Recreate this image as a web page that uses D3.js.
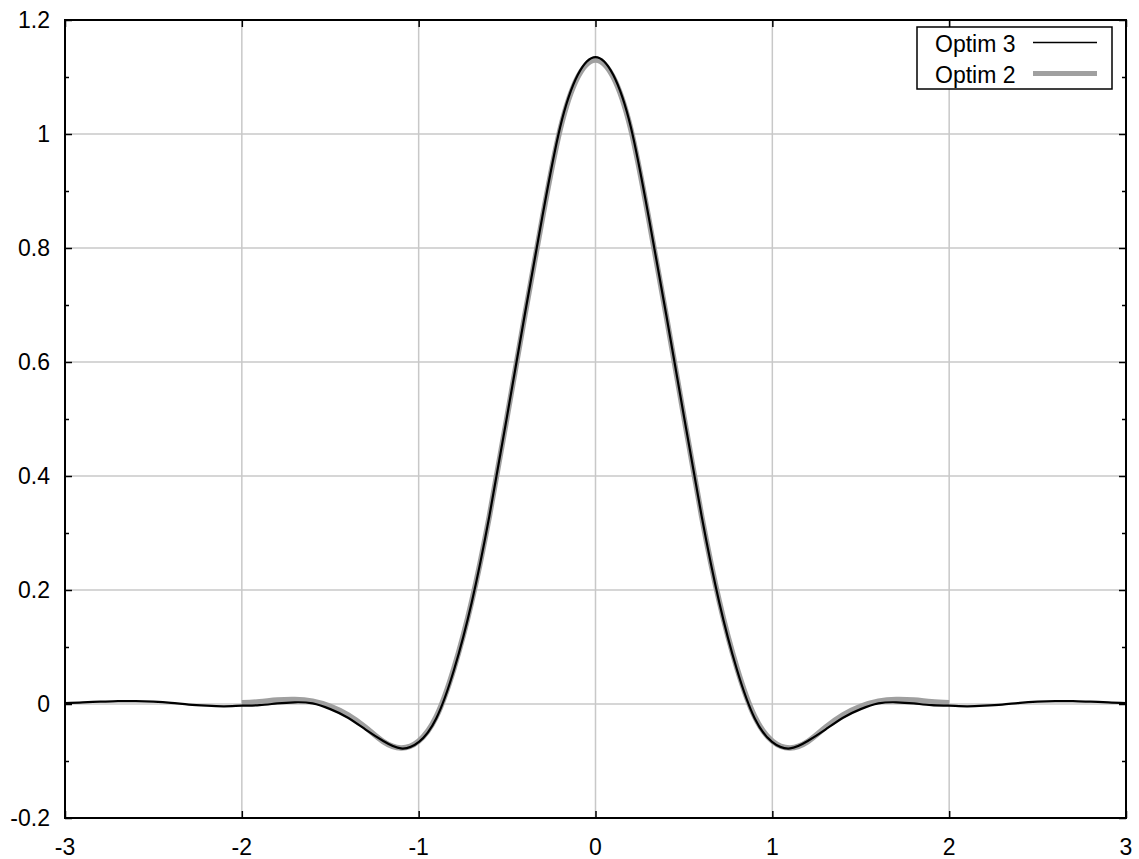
<!DOCTYPE html>
<html>
<head>
<meta charset="utf-8">
<script src="https://cdn.jsdelivr.net/npm/d3@7"></script>
<style>
  html, body { margin: 0; padding: 0; background: #fff; }
  svg { display: block; }
  text { font-family: "Liberation Sans", Arial, sans-serif; fill: #000; }
</style>
</head>
<body>
<svg id="chart" width="1139" height="859"></svg>
<script>
// Sample positions and kernel values (step 0.1)
const xOptim3 = [-3.0,-2.9,-2.8,-2.7,-2.6,-2.5,-2.4,-2.3,-2.2,-2.1,-2.0,-1.9,-1.8,-1.7,-1.6,-1.5,-1.4,-1.3,-1.2,-1.1,-1.0,-0.9,-0.8,-0.7,-0.6,-0.5,-0.4,-0.3,-0.2,-0.1,0.0,
                 0.1,0.2,0.3,0.4,0.5,0.6,0.7,0.8,0.9,1.0,1.1,1.2,1.3,1.4,1.5,1.6,1.7,1.8,1.9,2.0,2.1,2.2,2.3,2.4,2.5,2.6,2.7,2.8,2.9,3.0];
const yOptim3 = [0.0015,0.003,0.004,0.005,0.005,0.004,0.002,-0.001,-0.003,-0.004,-0.003,-0.002,0.001,0.003,0.001,-0.009,-0.024,-0.045,-0.065,-0.078,-0.067,-0.025,0.060,0.178,0.330,0.505,0.683,0.856,1.012,1.104,1.135,
                 1.104,1.012,0.856,0.683,0.505,0.330,0.178,0.060,-0.025,-0.067,-0.078,-0.065,-0.045,-0.024,-0.009,0.001,0.003,0.001,-0.002,-0.003,-0.004,-0.003,-0.001,0.002,0.004,0.005,0.005,0.004,0.003,0.0015];

const xOptim2 = [-2.0,-1.9,-1.8,-1.7,-1.6,-1.5,-1.4,-1.3,-1.2,-1.1,-1.0,-0.9,-0.8,-0.7,-0.6,-0.5,-0.4,-0.3,-0.2,-0.1,0.0,
                 0.1,0.2,0.3,0.4,0.5,0.6,0.7,0.8,0.9,1.0,1.1,1.2,1.3,1.4,1.5,1.6,1.7,1.8,1.9,2.0];
const yOptim2 = [0.002,0.004,0.007,0.008,0.005,-0.004,-0.019,-0.041,-0.066,-0.077,-0.065,-0.022,0.063,0.180,0.330,0.504,0.681,0.853,1.008,1.100,1.130,
                 1.100,1.008,0.853,0.681,0.504,0.330,0.180,0.063,-0.022,-0.065,-0.077,-0.066,-0.041,-0.019,-0.004,0.005,0.008,0.007,0.004,0.002];

const xTicks = [-3,-2,-1,0,1,2,3];
const xTickLabels = ["-3","-2","-1","0","1","2","3"];
const yTicks = [-0.2,0,0.2,0.4,0.6,0.8,1,1.2];
const yTickLabels = ["-0.2","0","0.2","0.4","0.6","0.8","1","1.2"];
const yMinorTicks = [-0.1,0.1,0.3,0.5,0.7,0.9,1.1];

const legendNames = ["Optim 3","Optim 2"];

const svg = d3.select("#chart");
const margin = {left: 65, right: 13, top: 20, bottom: 41};
const W = 1139, H = 859;
const fontSize = 23;

const x = d3.scaleLinear().domain([-3, 3]).range([margin.left, W - margin.right]);
const y = d3.scaleLinear().domain([-0.2, 1.2]).range([H - margin.bottom, margin.top]);

const x0 = x.range()[0], x1 = x.range()[1];
const y0 = y.range()[0], y1 = y.range()[1];

// grid
const grid = svg.append("g").attr("stroke", "#c8c8c8").attr("stroke-width", 1.5);
grid.selectAll(".gx").data(xTicks.slice(1, -1)).join("line")
  .attr("x1", d => x(d)).attr("x2", d => x(d)).attr("y1", y1).attr("y2", y0);
grid.selectAll(".gy").data(yTicks.slice(1, -1)).join("line")
  .attr("y1", d => y(d)).attr("y2", d => y(d)).attr("x1", x0).attr("x2", x1);

// axes: ticks inward on all four sides
const majorLen = 7, minorLen = 4;
const axLeft = d3.axisRight(y).tickValues(yTicks).tickSize(majorLen).tickFormat("");
const axRight = d3.axisLeft(y).tickValues(yTicks).tickSize(majorLen).tickFormat("");
const axBottom = d3.axisTop(x).tickValues(xTicks).tickSize(majorLen).tickFormat("");
const axTop = d3.axisBottom(x).tickValues(xTicks).tickSize(majorLen).tickFormat("");
const minLeft = d3.axisRight(y).tickValues(yMinorTicks).tickSize(minorLen).tickFormat("");
const minRight = d3.axisLeft(y).tickValues(yMinorTicks).tickSize(minorLen).tickFormat("");

function styleAxis(g) {
  g.select(".domain").remove();
  g.selectAll("line").attr("stroke", "#000").attr("stroke-width", 1.5);
}
svg.append("g").attr("transform", `translate(${x0},0)`).call(axLeft).call(styleAxis);
svg.append("g").attr("transform", `translate(${x1},0)`).call(axRight).call(styleAxis);
svg.append("g").attr("transform", `translate(0,${y0})`).call(axBottom).call(styleAxis);
svg.append("g").attr("transform", `translate(0,${y1})`).call(axTop).call(styleAxis);
svg.append("g").attr("transform", `translate(${x0},0)`).call(minLeft).call(styleAxis);
svg.append("g").attr("transform", `translate(${x1},0)`).call(minRight).call(styleAxis);

// curves
const line = d3.line().x(d => x(d[0])).y(d => y(d[1])).curve(d3.curveNatural);
const data2 = xOptim2.map((v, i) => [v, yOptim2[i]]);
const data3 = xOptim3.map((v, i) => [v, yOptim3[i]]);

svg.append("path").datum(data2).attr("d", line)
  .attr("fill", "none").attr("stroke", "#a0a0a0").attr("stroke-width", 5.5).attr("stroke-linejoin", "round");
svg.append("path").datum(data3).attr("d", line)
  .attr("fill", "none").attr("stroke", "#000").attr("stroke-width", 2.2).attr("stroke-linejoin", "round");

// frame
svg.append("rect").attr("x", x0).attr("y", y1).attr("width", x1 - x0).attr("height", y0 - y1)
  .attr("fill", "none").attr("stroke", "#000").attr("stroke-width", 2);

// tick labels
svg.append("g").selectAll("text").data(xTicks).join("text")
  .attr("x", d => x(d)).attr("y", 855).attr("text-anchor", "middle")
  .attr("font-size", fontSize).text((d, i) => xTickLabels[i]);
svg.append("g").selectAll("text").data(yTicks).join("text")
  .attr("x", 50).attr("y", d => y(d) + 8).attr("text-anchor", "end")
  .attr("font-size", fontSize).text((d, i) => yTickLabels[i]);

// legend
const lg = svg.append("g");
lg.append("rect").attr("x", 917).attr("y", 27).attr("width", 195).attr("height", 62)
  .attr("fill", "#fff").attr("stroke", "#000").attr("stroke-width", 1.5);
lg.append("text").attr("x", 935).attr("y", 52).attr("font-size", fontSize).text(legendNames[0]);
lg.append("text").attr("x", 935).attr("y", 83).attr("font-size", fontSize).text(legendNames[1]);
lg.append("line").attr("x1", 1033).attr("x2", 1097).attr("y1", 42.5).attr("y2", 42.5)
  .attr("stroke", "#000").attr("stroke-width", 1.5);
lg.append("line").attr("x1", 1033).attr("x2", 1097).attr("y1", 73.5).attr("y2", 73.5)
  .attr("stroke", "#a0a0a0").attr("stroke-width", 5);
</script>
</body>
</html>
